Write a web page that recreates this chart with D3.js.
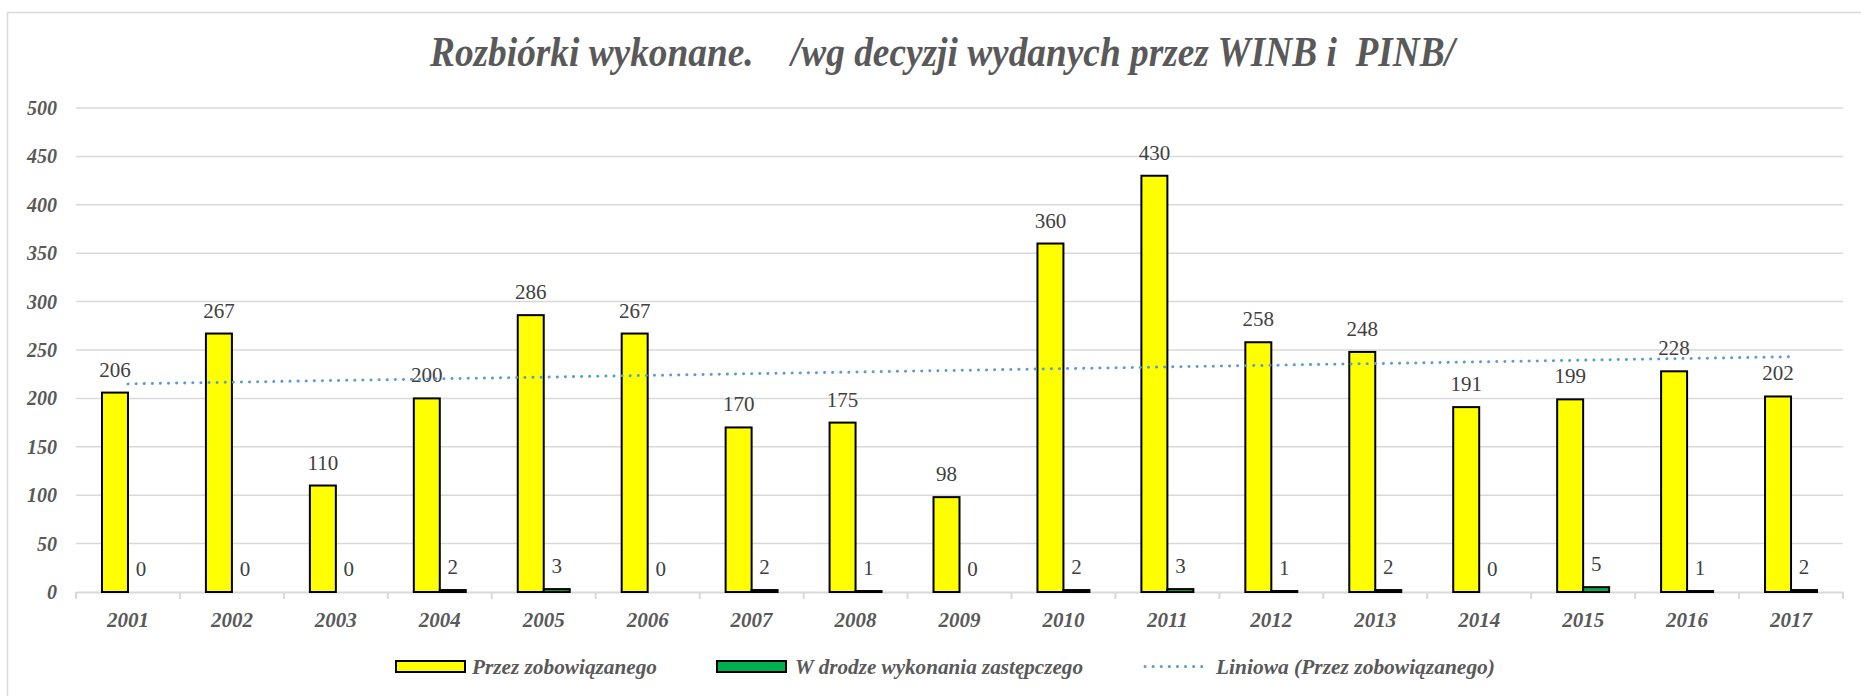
<!DOCTYPE html>
<html>
<head>
<meta charset="utf-8">
<script src="https://cdn.jsdelivr.net/npm/d3@7"></script>
<style>
  #chart text { font-family: "Liberation Serif" !important; }
</style>
</head>
<body style="margin:0">
<svg id="chart" width="1861" height="696" font-family="Liberation Serif"></svg>
<script>
const years = ['2001', '2002', '2003', '2004', '2005', '2006', '2007', '2008', '2009',
    '2010', '2011', '2012', '2013', '2014', '2015', '2016', '2017'];
const przezZobowiazanego = [206, 267, 110, 200, 286, 267, 170, 175, 98, 360, 430, 258, 248, 191, 199, 228, 202];
const wDrodzeZastepczego = [0, 0, 0, 2, 3, 0, 2, 1, 0, 2, 3, 1, 2, 0, 5, 1, 2];
// trendline ends (2001, 2017)
const trendEnds = [215, 243];
const yTicks = [0, 50, 100, 150, 200, 250, 300, 350, 400, 450, 500];
const seriesNames = ['Przez zobowiązanego', 'W drodze wykonania zastępczego', 'Liniowa (Przez zobowiązanego)'];

const svg = d3.select('#chart');
const plotLeft = 76, plotRight = 1843, plotTop = 108, plotBottom = 592;
const axisGrey = '#595959';
const serif = 'Liberation Serif';

// every text goes through here so the serif face sticks
const setFont = sel => sel.attr('font-family', serif).style('font-family', '"Liberation Serif"', 'important');

// chart frame (cut off at right/bottom like the source)
svg.append('rect')
    .attr('x', 7.5).attr('y', 12.5)
    .attr('width', 1870).attr('height', 700)
    .attr('fill', 'none').attr('stroke', '#d9d9d9').attr('stroke-width', 1.5);

const x = d3.scaleBand().domain(years).range([plotLeft, plotRight]).paddingInner(0).paddingOuter(0);
const xSub = d3.scaleBand().domain(['a', 'b']).range([0, x.bandwidth()]).paddingInner(0).paddingOuter(1);
const y = d3.scaleLinear().domain([0, 500]).range([plotBottom, plotTop]);

// gridlines
svg.append('g').selectAll('line')
    .data(yTicks.filter(d => d > 0)).enter()
    .append('line')
    .attr('x1', plotLeft).attr('x2', plotRight)
    .attr('y1', d => y(d)).attr('y2', d => y(d))
    .attr('stroke', '#d9d9d9').attr('stroke-width', 1.5);

// y labels
svg.append('g').selectAll('text')
    .data(yTicks).enter()
    .append('text')
    .attr('x', 57).attr('y', d => y(d)).attr('dy', '0.35em')
    .attr('text-anchor', 'end')
    .call(setFont)
    .attr('font-size', 20).attr('font-weight', 'bold').attr('font-style', 'italic')
    .attr('fill', axisGrey)
    .text(d => d);

// x axis
const xAxis = svg.append('g').attr('transform', `translate(0,${plotBottom})`)
    .call(d3.axisBottom(x).tickSize(0).tickPadding(20))
    .attr('font-family', serif);
xAxis.select('.domain').attr('stroke', '#d9d9d9').attr('stroke-width', 2);
xAxis.selectAll('.tick text')
    .call(setFont)
    .attr('font-size', 21).attr('font-weight', 'bold').attr('font-style', 'italic')
    .attr('fill', axisGrey);
svg.append('g').selectAll('line')
    .data(years.concat(['end'])).enter()
    .append('line')
    .attr('x1', (d, i) => plotLeft + i * x.step()).attr('x2', (d, i) => plotLeft + i * x.step())
    .attr('y1', plotBottom).attr('y2', plotBottom + 7)
    .attr('stroke', '#d9d9d9').attr('stroke-width', 2);

// bars
const series = [
    { key: 'a', values: przezZobowiazanego, color: '#ffff00' },
    { key: 'b', values: wDrodzeZastepczego, color: '#00b050' }
];
series.forEach(s => {
    const g = svg.append('g');
    g.selectAll('rect')
        .data(s.values).enter()
        .append('rect')
        .attr('x', (d, i) => x(years[i]) + xSub(s.key))
        .attr('y', d => y(d))
        .attr('width', xSub.bandwidth())
        .attr('height', d => y(0) - y(d))
        .attr('fill', s.color)
        .attr('stroke', d => d > 0 ? '#000' : 'none')
        .attr('stroke-width', 2);
    g.selectAll('text')
        .data(s.values).enter()
        .append('text')
        .attr('x', (d, i) => x(years[i]) + xSub(s.key) + xSub.bandwidth() / 2)
        .attr('y', d => y(d) - 16)
        .attr('text-anchor', 'middle')
        .call(setFont)
        .attr('font-size', 21)
        .attr('fill', '#404040')
        .text(d => d);
});

// linear trendline
const trendLine = d3.line()
    .x(d => d[0])
    .y(d => y(d[1]));
const trendPts = [
    [x(years[0]) + x.bandwidth() / 2, trendEnds[0]],
    [x(years[years.length - 1]) + x.bandwidth() / 2, trendEnds[1]]
];
svg.append('path')
    .attr('d', trendLine(trendPts))
    .attr('fill', 'none')
    .attr('stroke', '#5b9bd5').attr('stroke-width', 3)
    .attr('stroke-linecap', 'round').attr('stroke-dasharray', '0.1 8');

// title, pinned to the width it has in the source
svg.append('text')
    .attr('x', 430).attr('y', 66)
    .attr('textLength', 1025).attr('lengthAdjust', 'spacingAndGlyphs')
    .call(setFont)
    .style('white-space', 'pre')
    .attr('font-size', 42).attr('font-weight', 'bold').attr('font-style', 'italic')
    .attr('fill', axisGrey)
    .text('Rozbiórki wykonane.    /wg decyzji wydanych przez WINB i  PINB/');

// legend
const legend = svg.append('g');
const legendY = 661;
legend.append('rect').attr('x', 396).attr('y', legendY).attr('width', 69).attr('height', 11)
    .attr('fill', '#ffff00').attr('stroke', '#000').attr('stroke-width', 2);
legend.append('rect').attr('x', 717).attr('y', legendY).attr('width', 69).attr('height', 11)
    .attr('fill', '#00b050').attr('stroke', '#000').attr('stroke-width', 2);
legend.append('line').attr('x1', 1145).attr('x2', 1209).attr('y1', legendY + 5.5).attr('y2', legendY + 5.5)
    .attr('stroke', '#5b9bd5').attr('stroke-width', 3)
    .attr('stroke-linecap', 'round').attr('stroke-dasharray', '0.1 8');
const legendX = [472, 795, 1216];
const legendW = [185, 288, 279];
legendX.forEach((lx, i) => {
    legend.append('text')
        .attr('x', lx).attr('y', legendY + 5.5).attr('dy', '0.35em')
        .attr('textLength', legendW[i]).attr('lengthAdjust', 'spacingAndGlyphs')
        .call(setFont)
        .attr('font-size', 21).attr('font-weight', 'bold').attr('font-style', 'italic')
        .attr('fill', axisGrey)
        .text(seriesNames[i]);
});
</script>
</body>
</html>
